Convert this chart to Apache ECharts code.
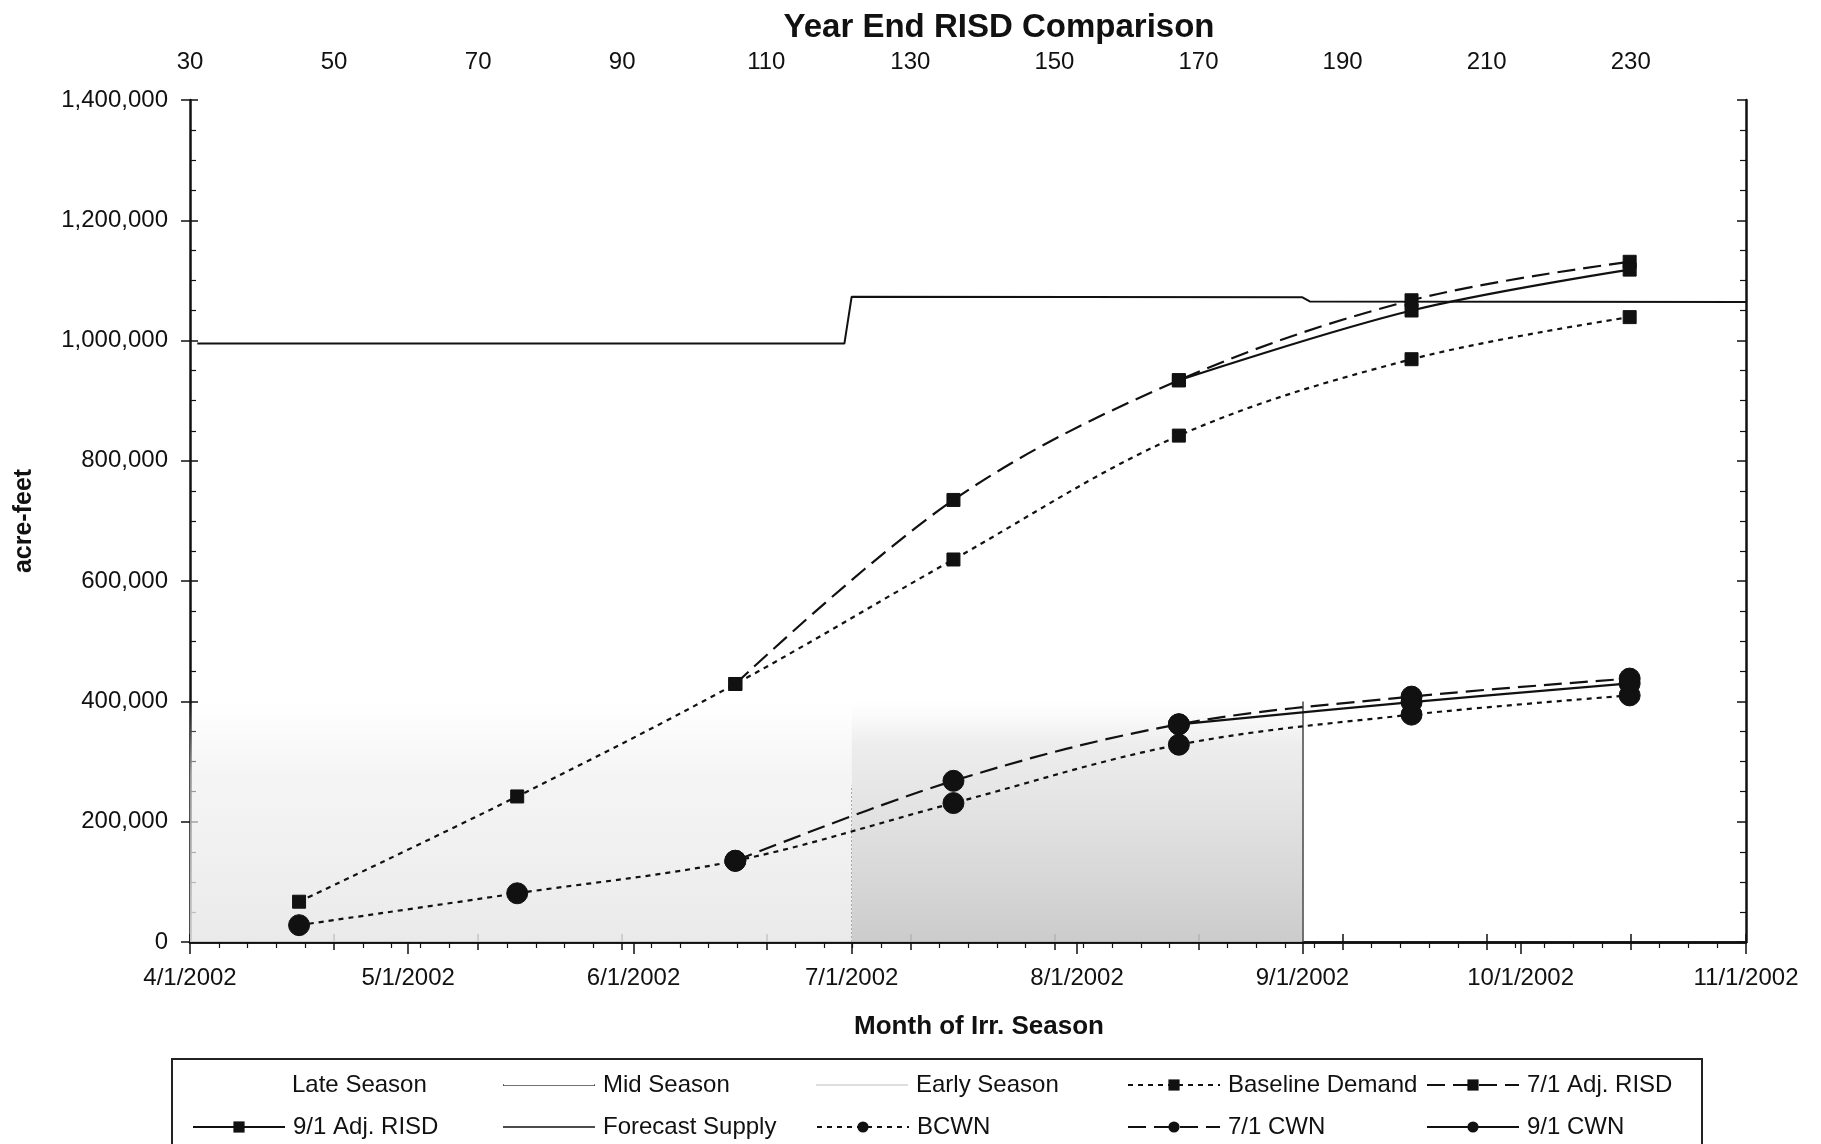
<!DOCTYPE html>
<html>
<head>
<meta charset="utf-8">
<script src="https://cdn.jsdelivr.net/npm/echarts@6/dist/echarts.min.js"></script>
<style>
html,body{margin:0;padding:0;background:#fff;}
#chart{width:1821px;height:1144px;}
</style>
</head>
<body>
<div id="chart"></div>
<script>
// ---------- DATA ----------
const pointDates = ['2002-04-16','2002-05-16','2002-06-15','2002-07-15','2002-08-15','2002-09-16','2002-10-16'];
const baselineDemand = [67000, 242000, 429000, 636000, 842000, 969000, 1039000];
const adj71Risd      = [null, null, 429000, 735000, 934000, 1067000, 1131000];
const adj91Risd      = [null, null, null, null, 934000, 1050000, 1118000];
const bcwn           = [28000, 81000, 135000, 231000, 328000, 378000, 410000];
const cwn71          = [null, null, 135000, 268000, 362000, 408000, 438000];
const cwn91          = [null, null, null, null, 362000, 399000, 430000];

const supplyDates  = ['2002-04-02','2002-06-30','2002-07-01','2002-09-01','2002-09-02','2002-11-01'];
const supplyValues = [995000, 995000, 1073000, 1072000, 1065000, 1064000];

const seasonNames = ['Late Season','Mid Season','Early Season'];
const seasonStart = ['2002-09-01','2002-07-01','2002-04-01'];
const seasonEnd   = ['2002-11-01','2002-09-01','2002-07-01'];
const seasonTop   = [400000, 400000, 400000];

const yTicks = [0, 200000, 400000, 600000, 800000, 1000000, 1200000, 1400000];
const topTickLabels = [30, 50, 70, 90, 110, 130, 150, 170, 190, 210, 230];
const monthTicks = ['2002-04-01','2002-05-01','2002-06-01','2002-07-01','2002-08-01','2002-09-01','2002-10-01','2002-11-01'];

// ---------- HELPERS ----------
const FONT = "'Liberation Sans', Arial, sans-serif";
const INK = '#111';
const pairs = (dates, vals) => dates.map((d, i) => [d, vals[i]]).filter(p => p[1] != null);
const fmtNum = v => String(v).replace(/\B(?=(\d{3})+(?!\d))/g, ',');
const fmtDate = v => { const d = new Date(v); return (d.getMonth() + 1) + '/' + d.getDate() + '/' + d.getFullYear(); };

const seasonFill = {
  'Late Season': 'rgba(255,255,255,0)',
  'Mid Season': {type:'linear', x:0, y:0, x2:0, y2:1, colorStops:[
    {offset:0, color:'rgba(230,230,230,0)'},
    {offset:0.18, color:'rgba(222,222,222,0.55)'},
    {offset:0.6, color:'rgba(212,212,212,0.8)'},
    {offset:1, color:'rgba(198,198,198,0.9)'}]},
  'Early Season': {type:'linear', x:0, y:0, x2:0, y2:1, colorStops:[
    {offset:0, color:'rgba(240,240,240,0)'},
    {offset:0.3, color:'rgba(238,238,238,0.6)'},
    {offset:1, color:'rgba(230,230,230,0.85)'}]}
};

const seriesList = [];
seasonNames.forEach((name, i) => {
  const s = {
    name, type:'line', z:1, silent:true, symbol:'none',
    data: [[seasonStart[i], seasonTop[i]], [seasonEnd[i], seasonTop[i]]],
    lineStyle:{opacity:0, width:0},
    itemStyle:{color: name === 'Mid Season' ? '#777' : (name === 'Early Season' ? '#bbb' : 'rgba(255,255,255,0)')},
    areaStyle:{color: seasonFill[name], opacity:1}
  };
  if (name === 'Mid Season') {
    s.markLine = {
      silent:true, symbol:'none', label:{show:false},
      data:[
        [{coord:[seasonStart[i], 0], lineStyle:{color:'#aaa', width:1, type:[2,2]}}, {coord:[seasonStart[i], seasonTop[i] * 0.65]}],
        [{coord:[seasonEnd[i], 0], lineStyle:{color:'#444', width:1.5, type:'solid'}}, {coord:[seasonEnd[i], seasonTop[i]]}]
      ]
    };
  }
  seriesList.push(s);
});

function lineSeries(name, data, dash, symbol, size) {
  return {
    name, type:'line', z:5, smooth:0.35,
    data, symbol, symbolSize:size, showAllSymbol:true,
    lineStyle:{color:INK, width:2.2, type:dash},
    itemStyle:{color:INK, borderColor:INK},
    emphasis:{disabled:true}
  };
}
const SHORT = [5,5], LONG = [18,8];
seriesList.push(lineSeries('Baseline Demand', pairs(pointDates, baselineDemand), SHORT, 'rect', 13));
seriesList.push(lineSeries('7/1 Adj. RISD', pairs(pointDates, adj71Risd), LONG, 'rect', 13));
seriesList.push(lineSeries('9/1 Adj. RISD', pairs(pointDates, adj91Risd), 'solid', 'rect', 13));
seriesList.push({
  name:'Forecast Supply', type:'line', z:4, symbol:'none',
  data: pairs(supplyDates, supplyValues),
  lineStyle:{color:INK, width:2}, itemStyle:{color:INK}
});
seriesList.push(lineSeries('BCWN', pairs(pointDates, bcwn), SHORT, 'circle', 21));
seriesList.push(lineSeries('7/1 CWN', pairs(pointDates, cwn71), LONG, 'circle', 21));
seriesList.push(lineSeries('9/1 CWN', pairs(pointDates, cwn91), 'solid', 'circle', 21));

// ---------- LEGENDS (one per cell, 5 columns x 2 rows) ----------
const legendRows = [
  ['Late Season','Mid Season','Early Season','Baseline Demand','7/1 Adj. RISD'],
  ['9/1 Adj. RISD','Forecast Supply','BCWN','7/1 CWN','9/1 CWN']
];
const colLeft = [187, 498, 811, 1122, 1421];
const rowTop = [1068, 1110];
const legends = [];
legendRows.forEach((row, r) => row.forEach((name, c) => {
  const lg = {
    data:[name], left:colLeft[c], top:rowTop[r], orient:'horizontal',
    itemWidth:92, itemHeight:14, itemGap:0, selectedMode:false,
    textStyle:{fontSize:24, color:INK, fontFamily:FONT, padding:[0,0,0,3]}
  };
  if (name === 'Late Season') { lg.icon = 'rect'; lg.itemStyle = {opacity:0}; }
  if (name === 'Mid Season') { lg.icon = 'path://M0,8 L0,10 L100,10 L100,8 L99.2,8 L99.2,9.2 L0.8,9.2 L0.8,8 Z'; lg.itemStyle = {color:'#444'}; }
  if (name === 'Early Season') { lg.icon = 'path://M0,8.8 L100,8.8 L100,10 L0,10 Z'; lg.itemStyle = {color:'#bdbdbd'}; }
  if (name === 'Forecast Supply') { lg.icon = 'path://M0,4.3 L100,4.3 L100,5.7 L0,5.7 Z'; lg.itemStyle = {color:INK}; }
  legends.push(lg);
}));

// ---------- AXES ----------
const axisLineStyle = {color:INK, width:2.5};
const option = {
  animation:false,
  backgroundColor:'#fff',
  textStyle:{fontFamily:FONT},
  title:{
    text:'Year End RISD Comparison', left:994, top:6, textAlign:'center',
    textStyle:{fontSize:33, fontWeight:'bold', color:INK, fontFamily:FONT}
  },
  legend: legends,
  graphic:[{
    type:'rect', silent:true, z:-1,
    shape:{x:172, y:1059, width:1530, height:120},
    style:{fill:'#fff', stroke:'#222', lineWidth:2}
  }],
  grid:{left:190, right:75, top:100, bottom:202, containLabel:false, outerBoundsMode:'none'},
  xAxis:[
    {
      type:'time', position:'bottom',
      min:monthTicks[0], max:monthTicks[monthTicks.length - 1],
      splitNumber:7, minInterval:28*86400000, maxInterval:31*86400000,
      name:'Month of Irr. Season', nameLocation:'middle', nameGap:72,
      nameTextStyle:{fontSize:26, fontWeight:'bold', color:INK, fontFamily:FONT, padding:[0,0,0,22]},
      axisLine:{show:true, lineStyle:axisLineStyle},
      axisTick:{show:true, length:12, lineStyle:{color:INK, width:1.5}},
      axisLabel:{fontSize:24, color:INK, margin:24, formatter:fmtDate, showMinLabel:true, showMaxLabel:true, hideOverlap:false},
      splitLine:{show:false}
    },
    {
      type:'value', position:'top',
      min:30, max:246, interval:20,
      axisLine:{show:true, lineStyle:axisLineStyle},
      axisTick:{show:true, inside:true, length:8, lineStyle:{color:INK, width:1.5}},
      minorTick:{show:true, splitNumber:5, length:6, lineStyle:{color:INK, width:1.2}},
      axisLabel:{fontSize:24, color:INK, margin:26, formatter:v => topTickLabels.indexOf(v) >= 0 ? String(v) : ''},
      splitLine:{show:false}
    },
    {
      type:'value', position:'top',
      min:30, max:246, interval:20,
      axisLine:{show:false},
      axisTick:{show:true, inside:false, length:8, lineStyle:{color:INK, width:1.5}},
      axisLabel:{show:false},
      splitLine:{show:false}
    }
  ],
  yAxis:[
    {
      type:'value', position:'left',
      min:yTicks[0], max:yTicks[yTicks.length - 1], interval:200000,
      name:'acre-feet', nameLocation:'middle', nameGap:153, nameRotate:90,
      nameTextStyle:{fontSize:25, fontWeight:'bold', color:INK, fontFamily:FONT},
      axisLine:{show:true, lineStyle:axisLineStyle},
      axisTick:{show:true, length:9, lineStyle:{color:INK, width:1.5}},
      axisLabel:{fontSize:24, color:INK, margin:22, formatter:fmtNum},
      splitLine:{show:false}
    },
    {
      type:'value', position:'left',
      min:yTicks[0], max:yTicks[yTicks.length - 1], interval:200000,
      axisLine:{show:false},
      axisTick:{show:true, inside:true, length:8, lineStyle:{color:INK, width:1.5}},
      minorTick:{show:true, splitNumber:4, length:6, lineStyle:{color:INK, width:1.2}},
      axisLabel:{show:false},
      splitLine:{show:false}
    },
    {
      type:'value', position:'right',
      min:yTicks[0], max:yTicks[yTicks.length - 1], interval:200000,
      axisLine:{show:true, lineStyle:axisLineStyle},
      axisTick:{show:true, inside:true, length:9, lineStyle:{color:INK, width:1.5}},
      minorTick:{show:true, splitNumber:4, length:6, lineStyle:{color:INK, width:1.2}},
      axisLabel:{show:false},
      splitLine:{show:false}
    }
  ],
  series: seriesList
};

const chart = echarts.init(document.getElementById('chart'), null, {renderer:'canvas'});
chart.setOption(option);
</script>
</body>
</html>
